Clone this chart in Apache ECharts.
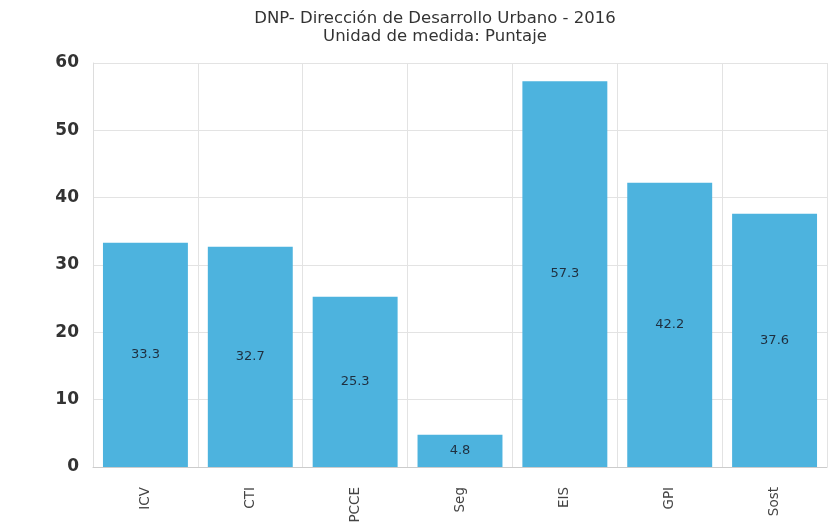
<!DOCTYPE html>
<html><head><meta charset="utf-8">
<script src="https://cdn.jsdelivr.net/npm/echarts@6/dist/echarts.min.js"></script>
<style>html,body{margin:0;padding:0;background:#fff}#c{width:834px;height:526px}</style>
</head><body><div id="c"></div>
<script>
const categories = ['ICV','CTI','PCCE','Seg','EIS','GPI','Sost'];
const values = [33.3, 32.7, 25.3, 4.8, 57.3, 42.2, 37.6];
const yTicks = [0,10,20,30,40,50,60];
const chart = echarts.init(document.getElementById('c'));
chart.setOption({
  animation:false,
  title:{text:'DNP- Dirección de Desarrollo Urbano - 2016\nUnidad de medida: Puntaje', left:430, textAlign:'center', top:5,
    textStyle:{fontSize:16.5, fontWeight:'normal', color:'#333', lineHeight:18, fontFamily:'DejaVu Sans'}},
  grid:{left:93, right:7, top:63, bottom:59},
  xAxis:{type:'category', data:categories,
    axisLine:{lineStyle:{color:'#ccc'}}, axisTick:{show:false},
    splitLine:{show:true, lineStyle:{color:'#e3e3e3'}},
    axisLabel:{rotate:90, color:'#444', fontSize:13.5, margin:20, fontFamily:'DejaVu Sans'}},
  yAxis:{type:'value', min:yTicks[0], max:yTicks[yTicks.length-1], interval:10,
    axisLine:{show:true, lineStyle:{color:'#ddd'}},
    splitLine:{lineStyle:{color:'#e3e3e3'}},
    axisLabel:{color:'#333', fontSize:17, fontWeight:'bold', margin:14, fontFamily:'DejaVu Sans'}},
  series:[{type:'bar', data:values, barCategoryGap:'19%',
    itemStyle:{color:'#4DB3DE'},
    label:{show:true, position:'inside', color:'#1f2f3f', fontSize:13, fontFamily:'DejaVu Sans'}}]
});
</script></body></html>
